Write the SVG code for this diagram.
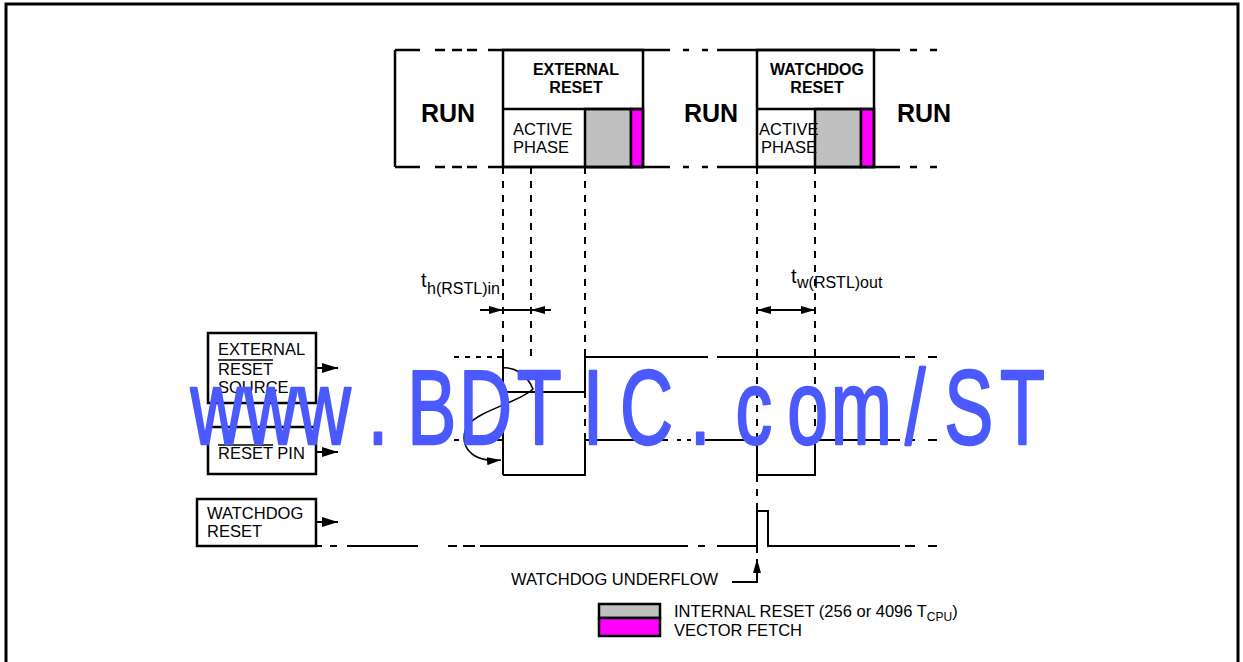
<svg xmlns="http://www.w3.org/2000/svg" width="1243" height="662" viewBox="0 0 1243 662">
<style>
text{font-family:"Liberation Sans",Arial,sans-serif;fill:#000}
.run{font-size:25px;font-weight:bold}
.hd{font-size:16px;font-weight:bold}
.t{font-size:16.5px}
.box{fill:none;stroke:#000;stroke-width:2.5}
.sig{fill:none;stroke:#000;stroke-width:2}
.dash{fill:none;stroke:#000;stroke-width:2;stroke-dasharray:7 7}
.bd{fill:none;stroke:#000;stroke-width:2.5}
.arr{fill:none;stroke:#000;stroke-width:2}
text.wm{font-family:"Liberation Sans",Arial,sans-serif;font-size:105px;fill:#4a5aff;stroke:#4a5aff;stroke-width:2;stroke-linejoin:round}
</style>
<defs>
<marker id="ah" viewBox="0 0 14 8" refX="14" refY="4" markerWidth="14" markerHeight="8" markerUnits="userSpaceOnUse" orient="auto-start-reverse"><path d="M0,0 L14,4 L0,8 z" fill="#000"/></marker>
<marker id="ah2" viewBox="0 0 16 10" refX="16" refY="5" markerWidth="16" markerHeight="10" markerUnits="userSpaceOnUse" orient="auto-start-reverse"><path d="M0,0 L16,5 L0,10 z" fill="#000"/></marker>
</defs>
<rect width="1243" height="662" fill="#fff"/>
<path d="M6,664 V4 H1238 V664" fill="none" stroke="#000" stroke-width="3"/>

<g id="state-bar">
<path class="bd" d="M395,50 V167 M395,50 H420 M395,167 H420 M488,50 H670 M488,167 H670 M717,50 H900 M717,167 H900"/>
<path class="bd" d="M435,50 H445 M452,50 H462 M467,50 H477 M435,167 H445 M452,167 H462 M467,167 H477 M683,50 H689 M702,50 H708 M683,167 H689 M702,167 H708 M910,50 H917 M930,50 H937 M910,167 H917 M930,167 H937"/>
</g>
<g id="run1"><text class="run" x="448" y="122" text-anchor="middle">RUN</text></g>
<g id="external-reset">
<rect x="585" y="109" width="46" height="58" fill="#c0c0c0" stroke="#000" stroke-width="2.5"/>
<rect x="631" y="109" width="12" height="58" fill="#ff00ff" stroke="#000" stroke-width="2.5"/>
<rect class="box" x="503" y="50" width="140" height="117"/>
<line class="box" x1="503" y1="109" x2="643" y2="109"/>
<text class="hd" x="576" y="75" text-anchor="middle">EXTERNAL</text>
<text class="hd" x="576" y="93" text-anchor="middle">RESET</text>
<text class="t" x="513" y="135">ACTIVE</text>
<text class="t" x="513" y="153">PHASE</text>
</g>
<g id="run2"><text class="run" x="711" y="122" text-anchor="middle">RUN</text></g>
<g id="watchdog-reset">
<rect x="815" y="109" width="46" height="58" fill="#c0c0c0" stroke="#000" stroke-width="2.5"/>
<rect x="861" y="109" width="13" height="58" fill="#ff00ff" stroke="#000" stroke-width="2.5"/>
<rect class="box" x="757" y="50" width="117" height="117"/>
<line class="box" x1="757" y1="109" x2="874" y2="109"/>
<text class="hd" x="817" y="75" text-anchor="middle">WATCHDOG</text>
<text class="hd" x="817" y="93" text-anchor="middle">RESET</text>
<text class="t" x="759" y="135">ACTIVE</text>
<text class="t" x="761" y="153">PHASE</text>
</g>
<g id="run3"><text class="run" x="924" y="122" text-anchor="middle">RUN</text></g>

<g id="label-ext-source">
<rect class="box" x="208" y="333" width="108" height="70"/>
<text class="t" x="218" y="355">EXTERNAL</text>
<text class="t" x="218" y="375">RESET</text>
<line x1="218" y1="360" x2="273" y2="360" stroke="#000" stroke-width="1.3"/>
<text class="t" x="218" y="393">SOURCE</text>
</g>
<g id="label-reset-pin">
<rect class="box" x="208" y="427" width="108" height="47"/>
<text class="t" x="218" y="459">RESET PIN</text>
<line x1="218" y1="445" x2="273" y2="445" stroke="#000" stroke-width="1.3"/>
</g>
<g id="label-watchdog">
<rect class="box" x="197" y="499" width="119" height="47"/>
<text class="t" x="207" y="519">WATCHDOG</text>
<text class="t" x="207" y="537">RESET</text>
</g>

<g id="timing-labels">
<text x="421" y="287" font-size="20">t</text><text x="427" y="294" font-size="16">h(RSTL)in</text>
<text x="791" y="283" font-size="20">t</text><text x="797" y="288" font-size="16">w(RSTL)out</text>
</g>

<g id="underflow-label">
<text class="t" x="511" y="585">WATCHDOG UNDERFLOW</text>
</g>

<g id="legend">
<rect x="599" y="604" width="61" height="14" fill="#c0c0c0" stroke="#000" stroke-width="2.5"/>
<rect x="599" y="618" width="61" height="18" fill="#ff00ff" stroke="#000" stroke-width="2.5"/>
<text class="t" x="674" y="617">INTERNAL RESET (256 or 4096 T<tspan font-size="12" dy="4">CPU</tspan><tspan dy="-4">)</tspan></text>
<text class="t" x="674" y="636">VECTOR FETCH</text>
</g>

<g id="connectors">
<path class="dash" d="M503,167 V357 M531,167 V357 M585,167 V440 M757,167 V510 M757,546 V560 M815,167 V440"/>
<path class="sig" d="M497,357 H503 V475 M503,392 H585 V357 H708 M717,357 H900"/>
<path class="sig" d="M454,357 H497" stroke-dasharray="5 6"/>
<path class="sig" d="M905,357 H915 M928,357 H937"/>
<path class="sig" d="M454,440 H459 M497,440 H503 M503,475 H585 V440 H668 M677,440 H681 M687,440 H691 M705,440 H757 V475 H815 V440 H900 M905,440 H915 M928,440 H937"/>
<path class="sig" d="M316,546 H322 M330,546 H337 M347,546 H418 M448,546 H457 M463,546 H475 M480,546 H688 M698,546 H705 M717,546 H757 V511 H768 V546 H900 M905,546 H915 M928,546 H937"/>
<path class="arr" d="M480,310 H503" marker-end="url(#ah)"/>
<path class="arr" d="M551,310 H531" marker-end="url(#ah)"/>
<path class="arr" d="M503,310 H531"/>
<path class="arr" d="M757,310 H815" marker-start="url(#ah)" marker-end="url(#ah)"/>
<path class="arr" d="M316,368 H338" marker-end="url(#ah2)"/>
<path class="arr" d="M316,452 H338" marker-end="url(#ah2)"/>
<path class="arr" d="M316,522 H338" marker-end="url(#ah2)"/>
<path class="arr" d="M732,582 H757 V559" marker-end="url(#ah)"/>
<path fill="none" stroke="#000" stroke-width="1.5" d="M503,368 C512,367 526,372 533,389 C520,402 480,410 468,425 C458,440 466,463 501,460" marker-end="url(#ah)"/>
</g>

<text class="wm" transform="scale(0.7,1)" vector-effect="non-scaling-stroke" text-anchor="middle" x="310.0 386.7 463.4 540.1 616.9 693.6 770.3 847.0 923.7 1000.4 1077.1 1153.9 1230.6 1307.3 1384.0 1460.7" y="444">www.BDTIC.com/ST</text>
</svg>
